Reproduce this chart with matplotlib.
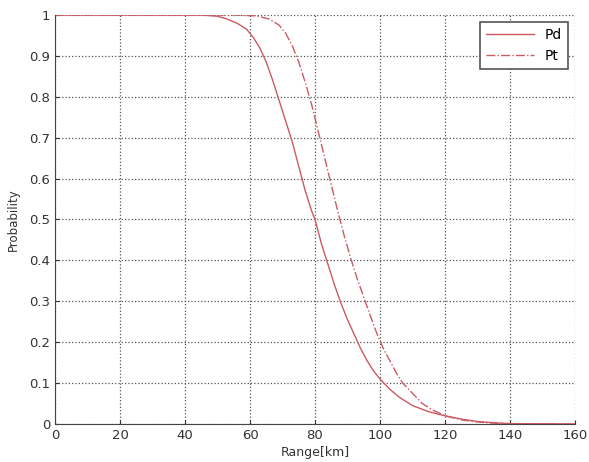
import numpy as np
import matplotlib.pyplot as plt

# values
range_pd = [0, 45, 50, 53, 56, 59, 61, 63, 65, 67, 69, 71, 73, 75, 77, 79, 80, 82, 84, 86, 88,
            90, 92, 94, 96, 98, 100, 103, 106, 110, 115, 120, 125, 130, 135, 140, 160]
pd = [1, 1, 0.997, 0.99, 0.98, 0.965, 0.945, 0.92, 0.885, 0.84, 0.79, 0.74, 0.69, 0.63, 0.57, 0.52, 0.50, 0.44, 0.39, 0.34, 0.295,
      0.255, 0.22, 0.185, 0.155, 0.13, 0.11, 0.085, 0.065, 0.045, 0.03, 0.02, 0.012, 0.006, 0.003, 0.001, 0.0]

range_pt = [0, 55, 62, 66, 69, 71, 73, 75, 77, 79, 81, 83, 85, 87, 89, 91, 93, 95, 97, 99,
            101, 103, 105, 107, 110, 113, 116, 120, 125, 130, 135, 140, 160]
pt = [1, 1, 0.998, 0.99, 0.975, 0.955, 0.925, 0.885, 0.835, 0.78, 0.715, 0.65, 0.585, 0.52, 0.46, 0.405, 0.355, 0.31, 0.265, 0.222,
      0.185, 0.155, 0.125, 0.10, 0.075, 0.05, 0.035, 0.02, 0.01, 0.005, 0.002, 0.0, 0.0]

red = "#cc5a62"

fig = plt.figure(figsize=(5.89, 4.62), dpi=100)
ax = fig.add_axes([0.0934, 0.0823, 0.8828, 0.8852])

ax.plot(range_pd, pd, color=red, lw=1.0, label="Pd")
ax.plot(range_pt, pt, color=red, lw=1.0, ls="-.", label="Pt")

ax.set_xlim(0, 160)
ax.set_ylim(0, 1)
ax.set_xticks(np.arange(0, 161, 20))
ax.set_yticks(np.arange(0, 1.01, 0.1))
ax.set_yticklabels(["0", "0.1", "0.2", "0.3", "0.4", "0.5", "0.6", "0.7", "0.8", "0.9", "1"])
ax.tick_params(direction="in", labelsize=9.5, colors="#333333", length=3)
ax.grid(True, ls=":", color="#555555", lw=0.9)

ax.spines["top"].set_visible(False)
ax.spines["right"].set_visible(False)
ax.spines["left"].set_color("#444444")
ax.spines["bottom"].set_color("#444444")

ax.set_xlabel("Range[km]", fontsize=9, color="#333333", labelpad=3)
ax.set_ylabel("Probability", fontsize=8.5, color="#333333", labelpad=7)

leg = ax.legend(loc="upper right", fontsize=10, fancybox=False, framealpha=1,
                edgecolor="#555555", handlelength=3.4, borderpad=0.45,
                labelspacing=0.5, borderaxespad=0, bbox_to_anchor=(0.987, 0.983))
leg.get_frame().set_linewidth(1.2)

fig.savefig("out.png", dpi=100)
